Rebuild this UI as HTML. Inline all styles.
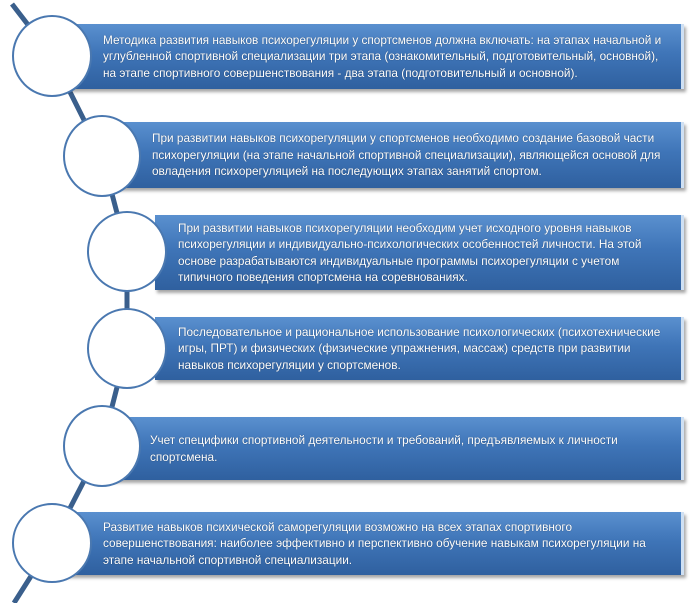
<!DOCTYPE html>
<html><head><meta charset="utf-8"><style>
body{margin:0;width:694px;height:603px;background:#fff;position:relative;overflow:hidden;font-family:"Liberation Sans","DejaVu Sans",sans-serif}
.b{position:absolute;right:10px;background:linear-gradient(#5a90cf 0%,#3f75b8 45%,#2f609f 100%);border-right:3px solid #cfe0f3;box-shadow:2px 3px 3px rgba(0,0,0,.35);color:#fff;font-size:11.8px;line-height:16.5px;box-sizing:border-box;display:flex;flex-direction:column;justify-content:center;white-space:nowrap;text-shadow:0 0 1px rgba(0,0,0,.5)}
.c{position:absolute;width:78px;height:80px;border-radius:50%;background:#fff;border:2px solid #4a78b0;box-sizing:border-box}
svg{position:absolute;left:0;top:0}
</style></head><body>
<svg width="694" height="603"><polyline points="12,4 52,56 102,156 127,251 127,348 102,446 52,543 14,603" fill="none" stroke="#3a5f8c" stroke-width="5"/></svg>
<div class="b" style="left:60px;top:24px;height:65px;padding-left:43px">Методика развития навыков психорегуляции у спортсменов должна включать: на этапах начальной и<br>углубленной спортивной специализации три этапа (ознакомительный, подготовительный, основной),<br>на этапе спортивного совершенствования - два этапа (подготовительный и основной).</div>
<div class="b" style="left:112px;top:122px;height:66px;padding-left:40px">При развитии навыков психорегуляции у спортсменов необходимо создание базовой части<br>психорегуляции (на этапе начальной спортивной специализации), являющейся основой для<br>овладения психорегуляцией на последующих этапах занятий спортом.</div>
<div class="b" style="left:155px;top:215px;height:75px;padding-left:23px;line-height:16.5px">При развитии навыков психорегуляции необходим учет исходного уровня навыков<br>психорегуляции и индивидуально-психологических особенностей личности. На этой<br>основе разрабатываются индивидуальные программы психорегуляции с учетом<br>типичного поведения спортсмена на соревнованиях.</div>
<div class="b" style="left:155px;top:317px;height:63px;padding-left:23px">Последовательное и рациональное использование психологических (психотехнические<br>игры, ПРТ) и физических (физические упражнения, массаж) средств при развитии<br>навыков психорегуляции у спортсменов.</div>
<div class="b" style="left:112px;top:417px;height:63px;padding-left:38px">Учет специфики спортивной деятельности и требований, предъявляемых к личности<br>спортсмена.</div>
<div class="b" style="left:60px;top:512px;height:63px;padding-left:43px">Развитие навыков психической саморегуляции возможно на всех этапах спортивного<br>совершенствования: наиболее эффективно и перспективно обучение навыкам психорегуляции на<br>этапе начальной спортивной специализации.</div>
<div class="c" style="left:12px;top:15px;width:80px;height:82px"></div>
<div class="c" style="left:63px;top:115px;height:82px"></div>
<div class="c" style="left:87px;top:211px;width:80px;height:81px"></div>
<div class="c" style="left:87px;top:308px;width:80px;height:81px"></div>
<div class="c" style="left:63px;top:405px;height:82px"></div>
<div class="c" style="left:12px;top:503px;width:80px;height:80px"></div>
</body></html>
